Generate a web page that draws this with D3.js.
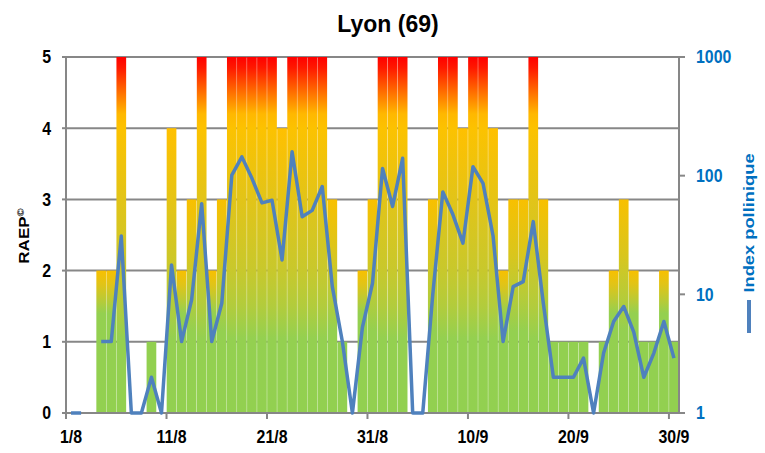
<!DOCTYPE html>
<html>
<head>
<meta charset="utf-8">
<script src="https://cdn.jsdelivr.net/npm/d3@7"></script>
<style>
  html, body { margin: 0; padding: 0; background: #fff; }
  svg { display: block; }
  text { font-family: "Liberation Sans", Arial, Helvetica, sans-serif; font-weight: bold; }
</style>
</head>
<body>
<svg id="chart" width="765" height="453"></svg>
<script>
// ---- Data ----
const days = [];
for (let d = 1; d <= 31; d++) days.push(d + "/8");
for (let d = 1; d <= 30; d++) days.push(d + "/9");

const raep = [0,0,0,2,2,5,0,0,1,0,
              4,2,3,5,2,3,5,5,5,5,
              5,4,5,5,5,5,3,1,0,2,
              3,5,5,5,0,0,3,5,5,4,
              5,5,4,2,3,3,5,3,1,1,
              1,1,0,1,2,3,2,1,1,2,
              1];

const pollenIndex = [1,1,null,4,4,31,1,1,2,1,
                     17.7,4,9,58,4,8.4,101,144,95,59,
                     62,19.5,159,45,51,81,11.6,4,1,5.3,
                     12.4,115,55,140,1,1,10,73,47,27,
                     119,86,31,4,11.6,12.8,41,8.4,2,2,
                     2,2.9,1,3.2,5.9,7.9,4.8,2,3.2,5.9,
                     2.9];

const xTickLabels = ["1/8","11/8","21/8","31/8","10/9","20/9","30/9"];
const leftTicks = [0,1,2,3,4,5];
const rightTicks = [1,10,100,1000];
const title = "Lyon (69)";
const leftTitle = "RAEP";
const leftTitleMark = "©";
const rightTitle = "Index pollinique";

// ---- Layout ----
const L = 66, R = 679, T = 57, B = 413;
const svg = d3.select("#chart");
const x = d3.scaleBand().domain(days).range([L, R]).paddingInner(0.035).paddingOuter(0.02);
const yL = d3.scaleLinear().domain([0, 5]).range([B, T]);
const yR = d3.scaleLog().domain([1, 1000]).range([B, T]);
const step = x.step(), bw = x.bandwidth();
const edge = d => x(d) - (step - bw) / 2;
const center = d => x(d) + bw / 2;

const gridCol = "#878787";
const SQ = 0.86;

// ---- Gradients ----
const defs = svg.append("defs");
const gradStops = {
  5: [[5,"#FF0000"],[4.85,"#FF1800"],[4.5,"#FF7000"],[4.2,"#FFB800"],[4.0,"#FCC200"],[3.0,"#E2C418"],[2.0,"#C8C82C"],[1.5,"#B2CC3C"],[1.05,"#94D050"],[0,"#92D050"]],
  4: [[5,"#FFC000"],[4.0,"#FFC000"],[3.0,"#E6C414"],[2.0,"#C8C82C"],[1.5,"#B2CC3C"],[1.05,"#94D050"],[0,"#92D050"]],
  3: [[5,"#F8C000"],[3.0,"#F8C000"],[2.2,"#D8C61E"],[1.6,"#B4CC3A"],[1.15,"#94D050"],[0,"#92D050"]],
  2: [[5,"#F8C000"],[2.0,"#F8C000"],[1.8,"#E0C418"],[1.6,"#BCCA34"],[1.4,"#94D050"],[0,"#92D050"]]
};
Object.keys(gradStops).forEach(k => {
  const g = defs.append("linearGradient").attr("id", "g" + k)
    .attr("gradientUnits", "userSpaceOnUse")
    .attr("x1", 0).attr("x2", 0).attr("y1", yL(5)).attr("y2", yL(0));
  gradStops[k].forEach(([lv, c]) => {
    g.append("stop").attr("offset", (5 - lv) / 5).attr("stop-color", c);
  });
});
const fillFor = v => v >= 2 ? "url(#g" + v + ")" : "#92D050";

// ---- Gridlines ----
svg.append("g").selectAll("line").data(leftTicks.filter(t => t > 0)).join("line")
  .attr("x1", L).attr("x2", R).attr("y1", d => yL(d)).attr("y2", d => yL(d))
  .attr("stroke", gridCol).attr("stroke-width", 2);

// ---- Bars ----
const tbl = days.map((d, i) => ({ day: d, v: raep[i], p: pollenIndex[i] }));
svg.append("g").selectAll("rect").data(tbl.filter(d => d.v > 0)).join("rect")
  .attr("x", d => x(d.day)).attr("width", bw)
  .attr("y", d => yL(d.v)).attr("height", d => yL(0) - yL(d.v))
  .attr("fill", d => fillFor(d.v));

// ---- Axes lines ----
const ax = svg.append("g").attr("stroke", gridCol).attr("stroke-width", 2);
ax.append("line").attr("x1", L).attr("x2", L).attr("y1", T).attr("y2", B);
ax.append("line").attr("x1", R).attr("x2", R).attr("y1", T).attr("y2", B);
ax.append("line").attr("x1", L - 4).attr("x2", R + 6).attr("y1", B).attr("y2", B);
leftTicks.forEach(t => ax.append("line").attr("x1", L - 4).attr("x2", L).attr("y1", yL(t)).attr("y2", yL(t)));
rightTicks.forEach(t => ax.append("line").attr("x1", R).attr("x2", R + 6).attr("y1", yR(t)).attr("y2", yR(t)));
xTickLabels.forEach(lbl => ax.append("line").attr("x1", edge(lbl)).attr("x2", edge(lbl)).attr("y1", B).attr("y2", B + 6));

// ---- Line ----
const line = d3.line()
  .defined(d => d.p != null)
  .x(d => center(d.day))
  .y(d => yR(d.p));
svg.append("path").datum(tbl).attr("d", line)
  .attr("fill", "none").attr("stroke", "#4F81BD").attr("stroke-width", 3.5)
  .attr("stroke-linejoin", "round");

// ---- Text ----
function txt(xp, yp, s, size, color, anchor, sx, rot) {
  return svg.append("text")
    .attr("transform", `translate(${xp},${yp}) scale(${sx},1)` + (rot ? ` rotate(${rot})` : ""))
    .attr("text-anchor", anchor).attr("dominant-baseline", "central")
    .attr("font-size", size).attr("fill", color).text(s);
}
txt(388, 24, title, 23, "#000", "middle", 1, 0);
leftTicks.forEach(t => txt(51, yL(t), String(t), 18.5, "#000", "end", SQ, 0));
rightTicks.forEach(t => txt(696, yR(t), String(t), 18.5, "#0070C0", "start", SQ, 0));
xTickLabels.forEach(l => txt(center(l), 437, l, 18.5, "#000", "middle", SQ, 0));
const lt = txt(24, 236, leftTitle, 17, "#000", "middle", 0.82, -90);
lt.append("tspan").attr("font-size", 11).attr("dy", -4).text(leftTitleMark);
txt(749, 223, rightTitle, 18.3, "#0070C0", "middle", 0.82, -90);
svg.append("line").attr("x1", 749).attr("x2", 749).attr("y1", 300).attr("y2", 333)
  .attr("stroke", "#4F81BD").attr("stroke-width", 4);
</script>
</body>
</html>
